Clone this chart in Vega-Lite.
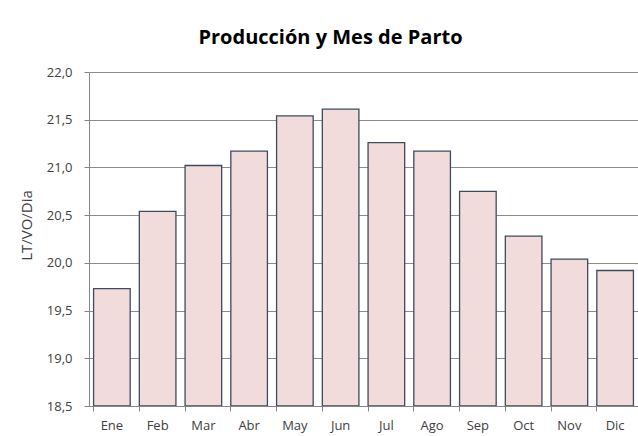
{
  "$schema": "https://vega.github.io/schema/vega-lite/v6.json",
  "autosize": {"type": "none"},
  "padding": {"left": 89, "top": 72, "right": 0, "bottom": 30},
  "width": 549,
  "height": 334,
  "background": "white",
  "title": {
    "text": "Producción y Mes de Parto",
    "font": "Open Sans",
    "fontSize": 20,
    "fontWeight": "bold",
    "color": "#000000",
    "anchor": "middle",
    "dx": -33,
    "offset": 18
  },
  "data": {
    "values": [
      {"mes": "Ene", "valor": 19.73},
      {"mes": "Feb", "valor": 20.54},
      {"mes": "Mar", "valor": 21.02},
      {"mes": "Abr", "valor": 21.17},
      {"mes": "May", "valor": 21.54},
      {"mes": "Jun", "valor": 21.61},
      {"mes": "Jul", "valor": 21.26},
      {"mes": "Ago", "valor": 21.17},
      {"mes": "Sep", "valor": 20.75},
      {"mes": "Oct", "valor": 20.28},
      {"mes": "Nov", "valor": 20.04},
      {"mes": "Dic", "valor": 19.92}
    ]
  },
  "mark": {"type": "bar", "fill": "#F2DCDB", "stroke": "#3E4B5E", "strokeWidth": 1.3, "clip": true},
  "encoding": {
    "x": {
      "field": "mes",
      "type": "nominal",
      "sort": null,
      "scale": {"paddingInner": 0.2, "paddingOuter": 0.1},
      "axis": {
        "title": null,
        "labelAngle": 0,
        "bandPosition": 0,
        "tickSize": 5,
        "tickColor": "#868686",
        "domainColor": "#868686",
        "labelFont": "Open Sans",
        "labelFontSize": 13,
        "labelColor": "#404040",
        "labelPadding": 8,
        "grid": false
      }
    },
    "y": {
      "field": "valor",
      "type": "quantitative",
      "scale": {"domain": [18.5, 22], "zero": false, "nice": false},
      "axis": {
        "title": "LT/VO/Dia",
        "titleFont": "Open Sans",
        "titleFontSize": 15,
        "titleFontWeight": "normal",
        "titleColor": "#404040",
        "titlePadding": 12,
        "titleY": 153,
        "values": [18.5, 19, 19.5, 20, 20.5, 21, 21.5, 22],
        "format": ".1f",
        "labelFont": "Open Sans",
        "labelFontSize": 13,
        "labelColor": "#404040",
        "labelPadding": 12,
        "tickSize": 5,
        "tickColor": "#868686",
        "domainColor": "#868686",
        "grid": true,
        "gridColor": "#8C8C8C",
        "gridWidth": 1
      }
    },
    "y2": {"datum": 18.5}
  },
  "config": {
    "view": {"stroke": null},
    "locale": {
      "number": {"decimal": ",", "thousands": ".", "grouping": [3], "currency": ["", " €"]}
    }
  }
}
